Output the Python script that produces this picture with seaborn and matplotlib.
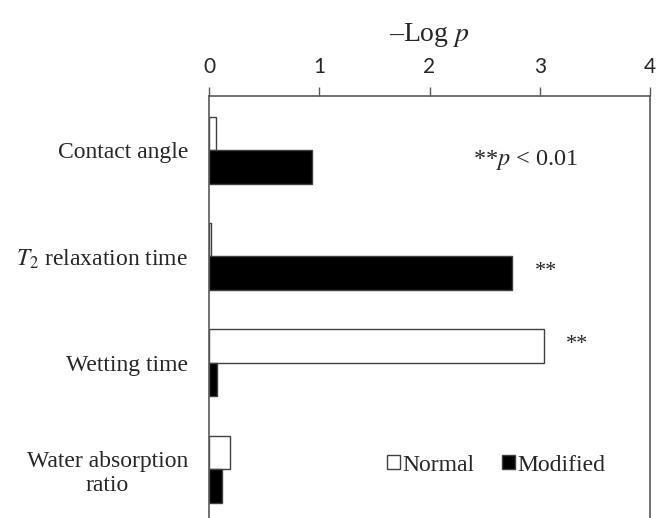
import pandas as pd
import matplotlib
matplotlib.use('Agg')
import matplotlib.pyplot as plt
import seaborn as sns

# Data
categories = ['Contact angle', '$T_2$ relaxation time', 'Wetting time', 'Water absorption\nratio']
normal = [0.06, 0.02, 3.04, 0.19]
modified = [0.93, 2.75, 0.07, 0.12]
sig_normal = ['', '', '**', '']
sig_modified = ['', '**', '', '']
x_ticks = [0, 1, 2, 3, 4]

df = pd.DataFrame({
    'Category': categories * 2,
    'Value': normal + modified,
    'Group': ['Normal'] * 4 + ['Modified'] * 4,
})

sns.set_style('white')
plt.rcParams['mathtext.fontset'] = 'stix'
plt.rcParams['font.family'] = ['Liberation Serif', 'DejaVu Serif']

fig = plt.figure(figsize=(6.56, 5.18), dpi=100)
ax = fig.add_axes([209 / 656, 0.0, 441 / 656, 1 - 96 / 518])

sns.barplot(data=df, y='Category', x='Value', hue='Group', orient='h',
            palette={'Normal': 'white', 'Modified': 'black'},
            width=0.63, edgecolor='#404040', linewidth=1.0, ax=ax)

ax.set_xlim(0, 4)
ax.set_ylim(3.46, -0.508)
ax.set_xticks(x_ticks)
ax.xaxis.tick_top()
ax.xaxis.set_label_position('top')
ax.set_xlabel('–Log $p$', fontsize=20, labelpad=12)
ax.set_ylabel('')

for lab in ax.get_xticklabels():
    lab.set_family('Lato')
    lab.set_fontsize(15)
for lab in ax.get_yticklabels():
    lab.set_multialignment('center')
ax.tick_params(axis='x', direction='out', length=6.5, width=1.0, color='#595959', pad=7)
ax.tick_params(axis='y', length=0, pad=15, labelsize=17)

for side in ['top', 'left', 'right']:
    ax.spines[side].set_visible(True)
    ax.spines[side].set_color('#595959')
    ax.spines[side].set_linewidth(1.2)
ax.spines['bottom'].set_visible(False)

# significance stars next to the bars
for cont, marks in zip(ax.containers, [sig_normal, sig_modified]):
    for bar, m in zip(cont.patches, marks):
        if m:
            ax.annotate(m, xy=(bar.get_width(), bar.get_y() + bar.get_height() / 2),
                        xytext=(16, 1), textcoords='offset points',
                        ha='left', va='center', fontsize=16)

ax.text(0.599, 0.848, '**$p$ < 0.01', transform=ax.transAxes, fontsize=17.5,
        ha='left', va='center')

ax.legend(loc='lower right', bbox_to_anchor=(0.948, 0.05), ncol=2, frameon=False,
          fontsize=17, handlelength=0.55, handleheight=0.55, handletextpad=0.1,
          columnspacing=1.2)

fig.savefig('out.png', dpi=100)
